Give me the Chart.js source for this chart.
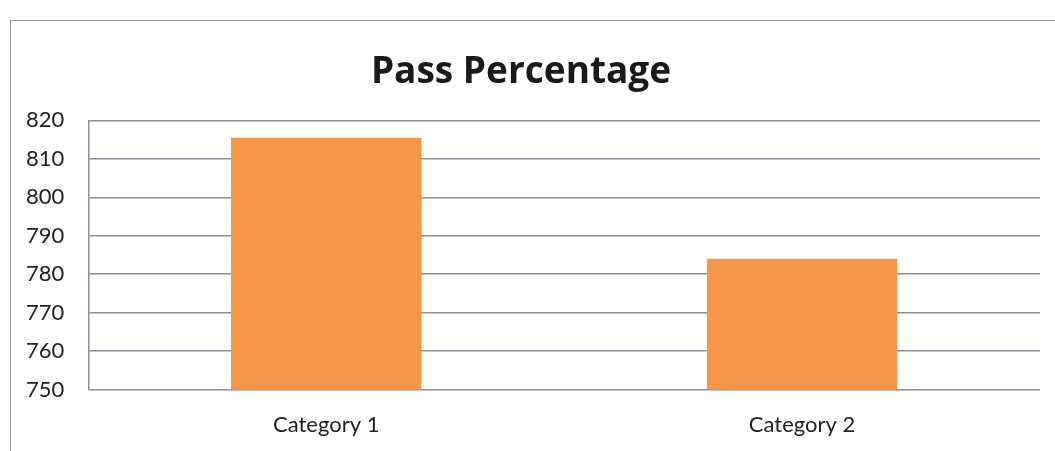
<!DOCTYPE html>
<html><head><meta charset="utf-8">
<script src="https://cdn.jsdelivr.net/npm/chart.js@4/dist/chart.umd.min.js"></script>
<style>
html,body{margin:0;padding:0;background:#fff;}
#wrap{position:relative;width:1055px;height:451px;}
#frame{position:absolute;left:10px;top:20px;width:1060px;height:460px;border:1.5px solid #9a9aa6;box-sizing:border-box;}
canvas{position:absolute;left:0;top:0;}
</style></head>
<body><div id="wrap"><div id="frame"></div><canvas id="c" width="1055" height="451"></canvas></div>
<script>
const categories = ["Category 1", "Category 2"];
const passValues = [815.5, 784];
const yTicks = [750, 760, 770, 780, 790, 800, 810, 820];
const chartTitle = "Pass Percentage";

const fontFam = "Lato, 'Open Sans', sans-serif";
new Chart(document.getElementById('c'), {
  type: 'bar',
  data: { labels: categories, datasets: [{ label: 'Series 1', data: passValues, backgroundColor: '#f79646', barPercentage: 0.8, categoryPercentage: 0.5 }] },
  options: {
    responsive: false, animation: false,
    layout: { padding: { left: 2, right: 15, top: 50, bottom: -9 } },
    plugins: {
      legend: { display: false },
      tooltip: { enabled: false },
      title: { display: true, text: chartTitle, color: '#1a1a1a', font: { family: "'Open Sans', sans-serif", size: 37, weight: 'bold' }, padding: { top: 0, bottom: 26 } }
    },
    scales: {
      x: {
        grid: { display: false, drawTicks: false },
        border: { display: false },
        ticks: { color: '#222', font: { family: fontFam, size: 22 }, padding: 22 }
      },
      y: {
        min: 750, max: 820,
        afterBuildTicks: (s) => { s.ticks = yTicks.map(v => ({ value: v })); },
        grid: { color: '#8c8c9c', lineWidth: 1.5, drawTicks: false },
        border: { display: true, color: '#8c8c9c', width: 1.5 },
        ticks: { color: '#222', font: { family: fontFam, size: 22 }, padding: 24 }
      }
    }
  }
});
</script></body></html>
